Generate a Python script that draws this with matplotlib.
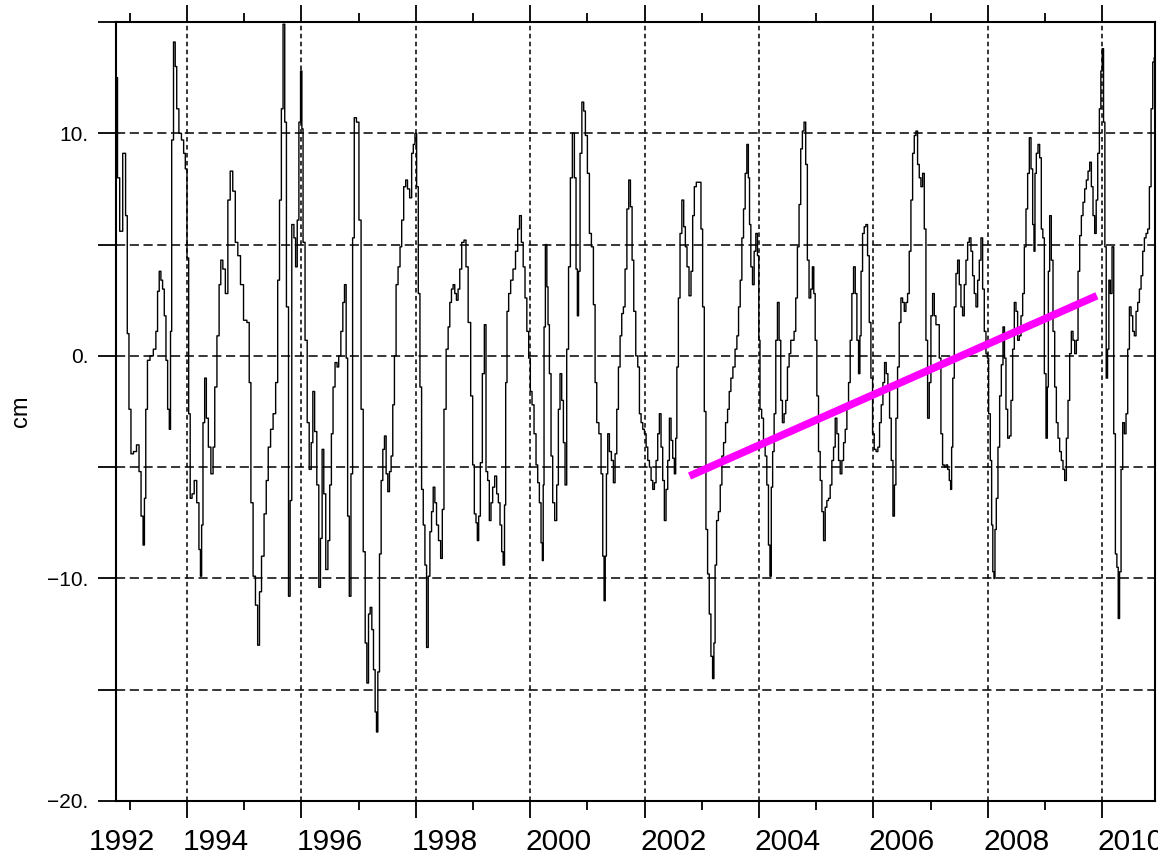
import matplotlib
matplotlib.use("Agg")
import matplotlib.pyplot as plt
import matplotlib.transforms as mtransforms

plt.rcParams['font.family'] = ['Liberation Sans', 'DejaVu Sans']

# ---- data: sea level anomaly (cm) ----
years = [
    1992.747, 1992.765, 1992.806, 1992.841, 1992.912, 1992.941, 1992.971, 1993.000, 1993.041, 1993.088,
    1993.147, 1993.176, 1993.218, 1993.247, 1993.265, 1993.294, 1993.324, 1993.382, 1993.441, 1993.471,
    1993.500, 1993.529, 1993.559, 1993.588, 1993.618, 1993.647, 1993.676, 1993.706, 1993.718, 1993.747,
    1993.782, 1993.806, 1993.835, 1993.882, 1993.924, 1993.959, 1993.982, 1994.018, 1994.041, 1994.071,
    1994.106, 1994.147, 1994.194, 1994.224, 1994.247, 1994.265, 1994.294, 1994.324, 1994.353, 1994.394,
    1994.441, 1994.471, 1994.500, 1994.547, 1994.576, 1994.606, 1994.647, 1994.694, 1994.735, 1994.776,
    1994.824, 1994.865, 1994.912, 1994.959, 1995.018, 1995.076, 1995.100, 1995.135, 1995.176, 1995.218,
    1995.253, 1995.282, 1995.324, 1995.371, 1995.400, 1995.441, 1995.482, 1995.529, 1995.571, 1995.600,
    1995.635, 1995.665, 1995.694, 1995.724, 1995.753,
    1995.797, 1995.809, 1995.855, 1995.884, 1995.913, 1995.942, 1995.971, 1996.000, 1996.017, 1996.041,
    1996.087, 1996.116, 1996.157, 1996.186, 1996.214, 1996.249, 1996.290, 1996.319, 1996.348, 1996.377,
    1996.406, 1996.446, 1996.481, 1996.510, 1996.539, 1996.568, 1996.609, 1996.638, 1996.667, 1996.713,
    1996.736, 1996.771, 1996.794, 1996.823, 1996.852, 1996.881, 1996.910, 1996.939, 1996.986, 1997.026,
    1997.061, 1997.101, 1997.130, 1997.159, 1997.188, 1997.217, 1997.246, 1997.275, 1997.304, 1997.322,
    1997.351, 1997.380, 1997.409, 1997.438, 1997.467, 1997.496, 1997.525, 1997.554, 1997.583, 1997.612,
    1997.641, 1997.670, 1997.710, 1997.739, 1997.768, 1997.809, 1997.838, 1997.872, 1997.913, 1997.942,
    1997.971, 1998.000, 1998.029, 1998.058, 1998.087, 1998.116, 1998.145, 1998.174, 1998.203, 1998.232,
    1998.261, 1998.290, 1998.319, 1998.348, 1998.377, 1998.417, 1998.452, 1998.475, 1998.510, 1998.551,
    1998.580, 1998.609, 1998.638, 1998.667, 1998.696, 1998.725, 1998.754, 1998.783, 1998.823,
    1998.863, 1998.892, 1998.939, 1998.980, 1999.009, 1999.038, 1999.067, 1999.085, 1999.114, 1999.143,
    1999.184, 1999.213, 1999.242, 1999.271, 1999.300, 1999.329, 1999.359, 1999.399, 1999.429, 1999.458,
    1999.487, 1999.516, 1999.539, 1999.563, 1999.580, 1999.609, 1999.638, 1999.679, 1999.720, 1999.767,
    1999.796, 1999.831, 1999.860, 1999.895, 1999.924, 1999.959, 1999.988, 2000.017, 2000.047, 2000.087,
    2000.117, 2000.146, 2000.175, 2000.204, 2000.222, 2000.233, 2000.251, 2000.280, 2000.303, 2000.321,
    2000.350, 2000.379, 2000.408, 2000.449, 2000.478, 2000.507, 2000.536, 2000.566, 2000.595, 2000.624,
    2000.653, 2000.688, 2000.717, 2000.758, 2000.787, 2000.816, 2000.834, 2000.857, 2000.886, 2000.921,
    2000.950, 2000.980, 2001.020, 2001.050, 2001.090, 2001.120, 2001.149, 2001.178, 2001.224, 2001.254,
    2001.283, 2001.300, 2001.324, 2001.341, 2001.370, 2001.399, 2001.440, 2001.469, 2001.499, 2001.528,
    2001.557, 2001.586, 2001.615, 2001.644, 2001.673, 2001.708, 2001.738, 2001.767, 2001.796, 2001.825,
    2001.866, 2001.895,
    2001.924, 2001.953, 2001.983, 2002.012, 2002.041, 2002.070, 2002.099, 2002.128, 2002.157, 2002.186,
    2002.215, 2002.244, 2002.273, 2002.302, 2002.331, 2002.360, 2002.390, 2002.419, 2002.448, 2002.477,
    2002.506, 2002.535, 2002.552, 2002.576, 2002.605, 2002.634, 2002.669, 2002.698, 2002.727, 2002.756,
    2002.797, 2002.826, 2002.855, 2002.884, 2002.924, 2002.971, 2003.000, 2003.029, 2003.058, 2003.087,
    2003.116, 2003.145, 2003.174, 2003.203, 2003.221, 2003.244, 2003.273, 2003.308, 2003.337, 2003.366,
    2003.395, 2003.436, 2003.465, 2003.494, 2003.523, 2003.564, 2003.599, 2003.628, 2003.657, 2003.686,
    2003.715, 2003.744, 2003.773, 2003.802, 2003.826, 2003.843, 2003.872, 2003.901, 2003.930, 2003.959,
    2003.988, 2004.006, 2004.029, 2004.064, 2004.093, 2004.122, 2004.151, 2004.180, 2004.203, 2004.227,
    2004.250, 2004.279, 2004.308, 2004.337, 2004.366, 2004.395, 2004.424, 2004.453, 2004.483, 2004.512,
    2004.541, 2004.570, 2004.599, 2004.628, 2004.657, 2004.686, 2004.715, 2004.744, 2004.773, 2004.802,
    2004.831, 2004.860, 2004.890, 2004.919, 2004.948,
    2004.968, 2004.997, 2005.026, 2005.055, 2005.085, 2005.114, 2005.143, 2005.172, 2005.201, 2005.230,
    2005.259, 2005.289, 2005.318, 2005.347, 2005.376, 2005.405, 2005.434, 2005.464, 2005.493, 2005.522,
    2005.551, 2005.580, 2005.609, 2005.638, 2005.668, 2005.697, 2005.726, 2005.755, 2005.773, 2005.796,
    2005.825, 2005.854, 2005.883, 2005.913, 2005.942, 2005.971, 2006.000, 2006.029, 2006.064, 2006.093,
    2006.122, 2006.152, 2006.181, 2006.210, 2006.239, 2006.268, 2006.297, 2006.327, 2006.356, 2006.379,
    2006.408, 2006.437, 2006.466, 2006.496, 2006.525, 2006.554, 2006.583, 2006.612, 2006.641, 2006.671,
    2006.700, 2006.729, 2006.758, 2006.787, 2006.816, 2006.845, 2006.875, 2006.904, 2006.933, 2006.962,
    2006.991, 2007.020, 2007.050, 2007.079, 2007.108, 2007.137, 2007.166, 2007.195, 2007.224, 2007.254,
    2007.283, 2007.312, 2007.341, 2007.359, 2007.376, 2007.399, 2007.429, 2007.458, 2007.487, 2007.516,
    2007.545, 2007.574, 2007.603, 2007.633, 2007.662, 2007.691, 2007.720, 2007.749, 2007.778, 2007.808,
    2007.837, 2007.866, 2007.895, 2007.924, 2007.953, 2007.983,
    2008.000, 2008.029, 2008.058, 2008.076, 2008.099, 2008.117, 2008.134, 2008.163, 2008.192, 2008.222,
    2008.251, 2008.280, 2008.303, 2008.332, 2008.362, 2008.391, 2008.420, 2008.449, 2008.478, 2008.507,
    2008.536, 2008.566, 2008.595, 2008.624, 2008.653, 2008.682, 2008.711, 2008.741, 2008.770, 2008.799,
    2008.816, 2008.834, 2008.863, 2008.892, 2008.921, 2008.950, 2008.974, 2009.003, 2009.032, 2009.050,
    2009.067, 2009.096, 2009.125, 2009.155, 2009.184, 2009.213, 2009.242, 2009.271, 2009.300, 2009.329,
    2009.359, 2009.388, 2009.417, 2009.446, 2009.475, 2009.504, 2009.534, 2009.563, 2009.592, 2009.621,
    2009.650, 2009.679, 2009.708, 2009.738, 2009.767, 2009.796, 2009.825, 2009.854, 2009.883, 2009.907,
    2009.936, 2009.965, 2009.988, 2010.012, 2010.035, 2010.058, 2010.082, 2010.105, 2010.128, 2010.157,
    2010.187, 2010.216, 2010.245, 2010.268, 2010.292, 2010.315, 2010.344, 2010.373, 2010.402, 2010.431,
    2010.461, 2010.490, 2010.519, 2010.548, 2010.577, 2010.606, 2010.636, 2010.665, 2010.694, 2010.723,
    2010.752, 2010.781, 2010.810, 2010.840, 2010.869, 2010.898, 2010.921,
]

sla_cm = [
    15.5, 12.5, 8.0, 5.6, 9.1, 6.3, 1.0, -2.4, -4.4, -4.3,
    -4.0, -5.2, -7.2, -8.5, -6.4, -2.4, -0.2, 0.0, 0.3, 1.1,
    2.9, 3.8, 3.4, 3.0, 1.8, -0.2, -2.4, -3.3, 1.1, 9.7,
    14.1, 13.0, 11.1, 10.0, 9.7, 9.1, 8.4, 4.4, -2.6, -6.4,
    -6.2, -5.6, -6.6, -8.7, -9.9, -7.6, -3.0, -1.0, -2.8, -4.1,
    -5.3, -4.1, -1.4, 0.9, 3.2, 4.3, 3.9, 2.8, 7.0, 8.3,
    7.4, 5.1, 4.5, 3.2, 1.6, 1.5, -1.2, -6.6, -9.9, -11.2,
    -13.0, -10.6, -9.0, -7.1, -5.6, -4.1, -3.3, -2.6, -1.2, 3.4,
    7.0, 11.1, 14.9, 10.5, 2.2,
    -10.8, -6.5, 5.9, 5.3, 4.0, 6.1, 10.5, 12.8, 10.2, 5.1,
    0.7, -3.0, -5.1, -3.9, -1.6, -3.4, -5.8, -10.4, -8.2, -4.2,
    -6.2, -9.6, -8.3, -5.8, -3.5, -1.4, -0.3, -0.5, 0.0, 1.1,
    2.4, 3.2, -0.1, -7.2, -10.8, -5.3, 5.3, 10.7, 10.5, 6.1,
    -2.4, -8.8, -12.9, -14.7, -11.6, -11.3, -12.3, -14.1, -16.0, -16.9,
    -14.2, -8.9, -5.6, -4.2, -3.6, -5.3, -6.1, -5.2, -4.5, -2.2,
    0.0, 3.2, 4.0, 4.9, 6.1, 7.6, 7.9, 7.5, 7.1, 9.1,
    9.5, 10.0, 7.6, 2.8, -1.4, -6.0, -7.6, -9.4, -13.1, -9.9,
    -7.9, -7.0, -5.9, -6.6, -7.6, -8.3, -9.1, -6.9, -2.4, 0.3,
    1.3, 2.4, 3.0, 3.2, 2.8, 2.5, 3.0, 3.9, 5.1,
    5.2, 4.0, 1.5, -1.8, -4.9, -7.1, -7.5, -8.3, -7.2, -4.8,
    -0.8, 1.4, -5.2, -5.6, -7.4, -6.6, -5.9, -5.4, -6.2, -6.6,
    -7.6, -8.8, -9.4, -6.7, -1.2, 2.0, 2.8, 3.4, 3.9, 4.7,
    5.7, 6.3, 5.1, 4.0, 2.6, 1.1, -0.1, -1.6, -2.2, -3.5,
    -4.9, -5.7, -6.6, -8.4, -9.2, -5.8, 1.3, 5.0, 3.1, 1.4,
    -0.8, -4.5, -6.6, -7.4, -5.8, -2.4, -0.8, -2.0, -3.9, -5.8,
    0.3, 4.0, 8.0, 10.0, 8.0, 3.9, 1.8, 3.8, 9.1, 11.4,
    11.0, 9.9, 8.2, 5.5, 4.9, 2.3, -1.2, -3.0, -3.5, -5.3,
    -9.0, -11.0, -9.0, -5.3, -3.5, -4.3, -4.7, -5.7, -4.4, -2.4,
    -0.5, 0.9, 1.9, 2.2, 3.9, 6.6, 7.9, 6.7, 4.3, 2.0,
    0.0, -0.5,
    -2.6, -3.0, -3.3, -3.5, -4.1, -4.7, -5.0, -5.6, -6.0, -5.7,
    -4.7, -3.5, -2.6, -4.1, -5.6, -7.4, -6.0, -4.7, -2.8, -3.8,
    -4.6, -5.3, -3.7, -0.5, 2.6, 5.5, 7.0, 5.8, 4.9, 4.0,
    2.7, 3.8, 6.3, 7.6, 7.8, 7.8, 5.7, 2.2, -2.5, -7.8,
    -9.8, -11.6, -13.5, -14.5, -12.9, -9.4, -7.4, -7.0, -5.8, -4.5,
    -3.9, -3.0, -2.4, -1.6, -1.0, -0.5, 0.3, 0.9, 2.2, 3.4,
    5.3, 6.6, 8.2, 9.5, 8.0, 5.9, 4.0, 3.2, 4.7, 5.5,
    4.5, 0.7, -2.4, -2.8, -3.9, -4.5, -5.8, -8.5, -9.9, -5.9,
    -4.3, -2.6, 0.7, 2.4, 0.7, -2.0, -3.0, -2.6, -2.0, -0.5,
    0.1, 0.7, 0.7, 1.1, 2.6, 4.9, 6.8, 9.3, 10.1, 10.5,
    8.6, 4.3, 2.6, 3.0, 4.0,
    2.8, 0.7, -1.8, -4.3, -5.6, -7.0, -8.3, -6.8, -6.5, -6.4,
    -5.8, -4.7, -4.1, -2.8, -3.5, -4.7, -5.3, -4.7, -3.9, -3.3,
    -2.4, -1.2, 0.7, 2.8, 4.0, 2.8, 0.7, -0.8, 0.9, 3.8,
    5.5, 5.8, 5.9, 4.5, 1.5, -1.0, -3.5, -4.2, -4.3, -4.1,
    -3.0, -2.2, -1.2, -0.3, -0.8, -1.4, -2.8, -4.7, -7.2, -5.8,
    -2.8, -0.5, 1.5, 2.6, 2.4, 2.0, 2.4, 2.8, 4.7, 7.0,
    9.1, 9.9, 10.1, 8.6, 8.0, 7.6, 8.2, 5.7, 0.7, -2.8,
    -1.2, 1.8, 2.8, 1.8, 1.4, 1.4, -0.1, -3.5, -4.9, -5.0,
    -4.9, -5.1, -5.6, -6.0, -4.1, -1.0, 2.2, 3.7, 4.3, 3.2,
    2.2, 1.8, 3.2, 4.3, 5.1, 5.3, 4.7, 3.6, 2.8, 2.2,
    3.4, 4.3, 5.3, 3.0, 1.1, 0.1,
    -0.1, -2.6, -4.7, -7.6, -9.7, -10.0, -7.8, -6.4, -4.1, -1.8,
    -0.4, 1.3, -0.1, -2.4, -3.7, -3.6, -2.0, 0.3, 2.4, 2.0,
    0.7, 0.9, 1.8, 2.8, 4.9, 6.6, 8.2, 9.8, 8.4, 5.9,
    4.7, 8.2, 9.1, 9.5, 8.9, 5.7, 5.3, -0.8, -3.7, -1.4,
    3.8, 6.3, 4.3, 1.1, -1.4, -3.0, -3.7, -4.3, -4.7, -5.1,
    -5.6, -3.7, -2.0, 0.1, 1.1, 0.7, 0.1, 0.7, 3.8, 5.4,
    6.3, 6.9, 7.5, 7.9, 8.3, 8.7, 7.6, 6.3, 5.5, 7.0,
    9.1, 11.1, 12.8, 13.8, 10.5, 4.9, -1.0, 0.3, 3.4, 2.8,
    4.9, -3.5, -8.9, -9.5, -11.8, -9.7, -5.1, -3.0, -3.5, -2.6,
    0.3, 2.2, 1.8, 1.1, 0.9, 2.0, 2.4, 3.0, 3.6, 4.7,
    5.3, 5.5, 5.7, 7.6, 11.1, 13.2, 13.4,
]

# trend line (magenta) end points
trend_years = [2002.785, 2009.907]
trend_cm = [-5.4, 2.7]

# axes / tick setup
x_major = [1994, 1996, 1998, 2000, 2002, 2004, 2006, 2008, 2010]
x_minor = [1993, 1995, 1997, 1999, 2001, 2003, 2005, 2007, 2009]
x_labels = ["1992", "1994", "1996", "1998", "2000", "2002", "2004", "2006", "2008", "2010"]
x_label_pos = [1992.86, 1994.5, 1996.5, 1998.5, 2000.5, 2002.5, 2004.5, 2006.5, 2008.5, 2010.5]
y_ticks = [-20, -15, -10, -5, 0, 5, 10, 15]
y_grid = [-15, -10, -5, 0, 5, 10]
y_labels = {-20: "\u221220.", -10: "\u221210.", 0: "0.", 10: "10."}

W, H = 1158, 858
fig = plt.figure(figsize=(W / 100, H / 100), dpi=100)
ax = fig.add_axes([116 / W, (H - 801) / H, (1155 - 116) / W, (801 - 22) / H])

ax.set_xlim(1992.759, 2010.923)
ax.set_ylim(-20, 15)

# grid
for yv in y_grid:
    ax.axhline(yv, color='black', lw=1.1, ls=(0, (6, 3)), zorder=1)
for xv in x_major:
    ax.axvline(xv, color='black', lw=1.1, ls=(0, (3, 2.2)), zorder=1)

# data
ax.plot(years, sla_cm, color='black', lw=1.0, drawstyle='steps-mid', zorder=3)
ax.plot(trend_years, trend_cm, color='#ff00ff', lw=5.5, solid_capstyle='butt', zorder=4)

# ticks
ax.set_xticks(x_major)
ax.set_xticks(x_minor, minor=True)
ax.set_yticks(y_ticks)
ax.set_yticklabels([y_labels.get(v, "") for v in y_ticks])
ax.tick_params(axis='x', which='major', direction='out', length=12.5, width=1.3,
               top=True, bottom=True, labelbottom=False)
ax.tick_params(axis='x', which='minor', direction='out', length=6.5, width=1.3,
               top=True, bottom=True)
ax.tick_params(axis='y', which='major', direction='out', length=13, width=1.3,
               left=True, right=False, labelsize=15, pad=7)
for s in ax.spines.values():
    s.set_linewidth(1.5)

trans = mtransforms.blended_transform_factory(ax.transData, ax.transAxes)
for lab, xp in zip(x_labels, x_label_pos):
    ax.text(xp, -0.052, lab, transform=trans, ha='center', va='center',
            fontsize=21.5, clip_on=False)

fig.text(21 / W, 1 - 411 / H, "cm", rotation=90, ha='center', va='center', fontsize=17)

fig.savefig("out.png", dpi=100)
